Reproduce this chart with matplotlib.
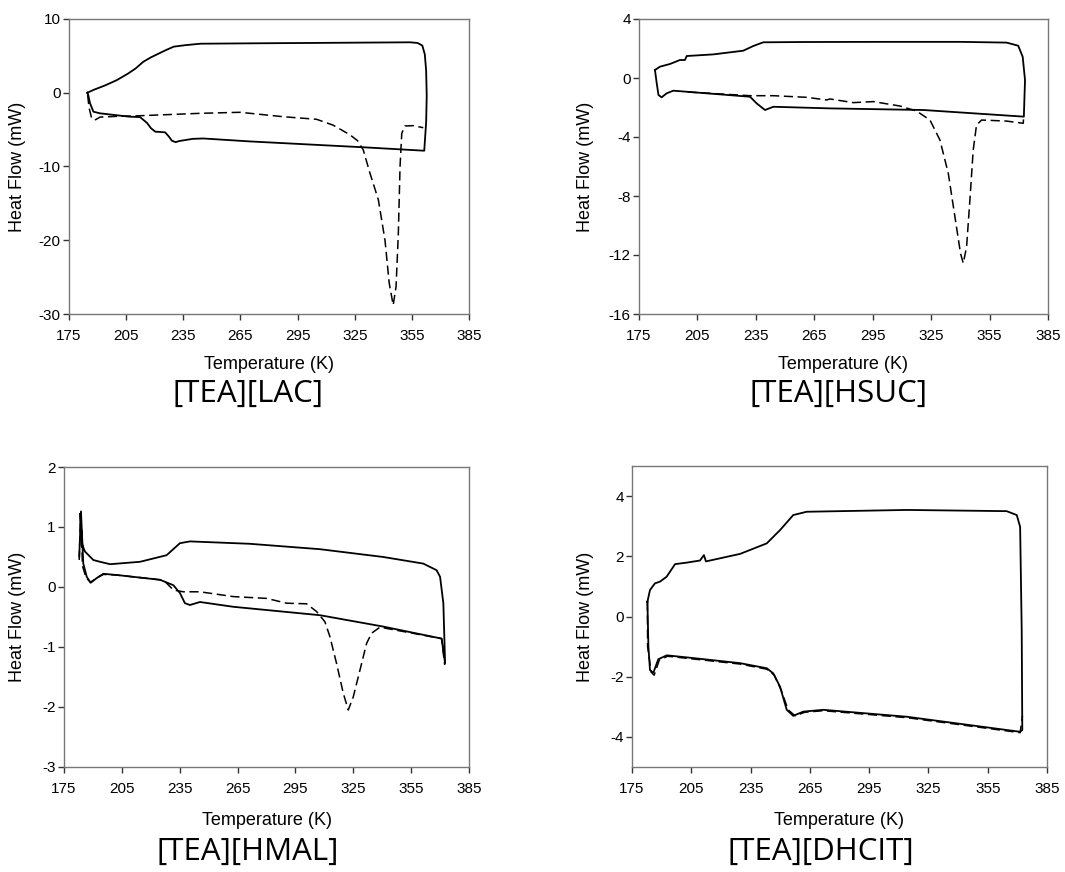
import numpy as np
import matplotlib
matplotlib.use('Agg')
import matplotlib.pyplot as plt

plt.rcParams['font.family'] = ['Liberation Sans', 'DejaVu Sans']
plt.rcParams['axes.unicode_minus'] = False

# ---- [TEA][LAC] ----
lac_solid_T = [184.6, 188, 194, 200, 206, 210, 214, 218, 222, 226, 230, 236, 244, 270, 300, 330, 354,
               358, 360.5, 361.8, 362.5, 362.8, 362.5, 361.5,
               330, 300, 270, 245.5, 240, 232.8, 231, 229, 227.5, 225.5, 222, 220.3, 218, 216,
               212.3, 207, 200, 191.3, 187.8, 186, 185.1, 184.6]
lac_solid_hf = [0.0, 0.4, 1.0, 1.7, 2.6, 3.3, 4.2, 4.8, 5.3, 5.8, 6.25, 6.45, 6.65, 6.7, 6.75, 6.8, 6.84,
                6.75, 6.4, 5.2, 3.0, -0.4, -4.0, -7.86,
                -7.4, -7.0, -6.6, -6.2, -6.25, -6.55, -6.7, -6.5, -5.96, -5.37, -5.3, -5.28, -4.8, -4.1,
                -3.3, -3.25, -3.05, -2.79, -2.57, -1.4, -0.3, 0.0]
lac_dash_T = [184.8, 185.5, 186.9, 188.6, 191.3, 200, 208.8, 243.8, 264.8, 287.5, 305, 313.7, 322.5,
              326.5, 329.5, 333, 337.4, 340.9, 343.1, 345.2, 346.7, 347.9, 348.8, 349.7, 351.4, 355.8, 361]
lac_dash_hf = [-0.3, -2.0, -3.47, -3.7, -3.3, -3.2, -3.15, -2.79, -2.65, -3.25, -3.6, -4.4, -5.7,
               -6.5, -7.76, -10.9, -14.5, -20, -25.8, -28.8, -26.3, -19.1, -10, -5.5, -4.5, -4.46, -4.74]

# ---- [TEA][HSUC] ----
hsuc_solid_T = [183.2, 185.8, 190.9, 196, 198.6, 199.5, 213.1, 228.5, 233.7, 238.8, 260, 300, 340,
                363.7, 369.7, 372, 373.2, 372.6,
                321, 273, 244, 239.7, 235.4, 232, 192.6, 189.2, 186.6, 185, 184.1, 183.2]
hsuc_solid_hf = [0.54, 0.77, 0.95, 1.22, 1.22, 1.49, 1.6, 1.85, 2.17, 2.42, 2.44, 2.45, 2.45,
                 2.4, 2.19, 1.44, -0.14, -2.62,
                 -2.17, -2.06, -1.95, -2.17, -1.72, -1.27, -0.86, -1.04, -1.31, -1.15, -0.36, 0.54]
hsuc_dash_T = [200, 232, 244, 261.1, 271.4, 273, 285, 295.3, 309, 317.5, 324.4, 329.5, 333.8, 337.2,
               340.1, 341.5, 343.2, 344.9, 346.6, 348.3, 350.9, 363.7, 372.3, 372.5]
hsuc_dash_hf = [-0.95, -1.2, -1.2, -1.31, -1.49, -1.42, -1.67, -1.6, -1.9, -2.24, -2.85, -4.2, -6.46,
                -9.4, -11.9, -12.56, -11.44, -8.27, -4.88, -3.19, -2.85, -2.92, -3.07, -2.62]

# ---- [TEA][HMAL] ----
hmal_solid_T = [183.3, 184.5, 185.9, 190.2, 193.7, 198.9, 214.4, 228.2, 235.1, 240.3, 271.4, 307.7,
                340.6, 361.3, 368.2, 370, 371.7, 372.6, 370.8,
                340.6, 307.7, 262.8, 245.5, 240.3, 237.7, 235.1, 231.7, 224.8, 202.3, 195.4, 192,
                188.8, 186.8, 185, 183.8, 182.9]
hmal_solid_hf = [1.22, 0.7, 0.59, 0.45, 0.42, 0.38, 0.42, 0.53, 0.73, 0.76, 0.72, 0.63,
                 0.5, 0.39, 0.28, 0.17, -0.27, -1.27, -0.86,
                 -0.66, -0.47, -0.33, -0.25, -0.3, -0.27, -0.1, 0.03, 0.12, 0.2, 0.22, 0.15,
                 0.07, 0.17, 0.39, 1.26, 0.51]
hmal_dash_T = [182.9, 183.6, 184.6, 186.5, 188.8, 192, 195.4, 202.3, 224.8, 227.4, 231.7, 236.9,
               245.5, 262.8, 280.1, 290.4, 300.8, 306, 310.3, 312.9, 316.3, 319.8, 322.4, 325,
               328.5, 331.9, 334.5, 338.8, 370.8, 372.4]
hmal_dash_hf = [0.45, 1.2, 0.35, 0.15, 0.08, 0.15, 0.21, 0.2, 0.12, 0.09, -0.05, -0.08,
                -0.08, -0.16, -0.19, -0.27, -0.28, -0.41, -0.58, -0.83, -1.27, -1.77, -2.05, -1.83,
                -1.38, -0.94, -0.77, -0.67, -0.86, -1.3]

# ---- [TEA][DHCIT] ----
dhcit_solid_T = [182.8, 184.1, 186.6, 189.2, 192.5, 196.8, 202.7, 209.4, 211.4, 212.4, 229.7, 243.2,
                 249.9, 256.6, 263.4, 314, 364.6, 369.7, 371.4, 372.2, 372.5,
                 371.4, 314, 271.8, 261.7, 256.6, 253.3, 249.9, 246.5, 243.2, 229.7, 204.4, 192.6,
                 188.3, 185.8, 184.1, 183.3, 182.8]
dhcit_solid_hf = [0.49, 0.88, 1.1, 1.16, 1.32, 1.74, 1.79, 1.86, 2.04, 1.83, 2.08, 2.43,
                  2.87, 3.37, 3.48, 3.54, 3.5, 3.37, 2.98, -0.45, -3.77,
                  -3.83, -3.33, -3.1, -3.16, -3.3, -3.1, -2.33, -1.89, -1.72, -1.55, -1.37, -1.29,
                  -1.42, -1.87, -1.78, -1.0, 0.49]
dhcit_dash_T = [182.8, 182.9, 184.7, 186.2, 188.8, 193, 204.4, 229.7, 243.2, 247, 250.5, 254, 257.5,
                262.5, 271.8, 314, 371.4, 372.6]
dhcit_dash_hf = [0.49, -1.0, -1.85, -1.95, -1.45, -1.32, -1.4, -1.58, -1.75, -1.95, -2.45, -3.1, -3.3,
                 -3.18, -3.13, -3.36, -3.86, -3.3]

xticks = np.arange(175, 386, 30)

W, H = 1065, 872
fig = plt.figure(figsize=(W / 100, H / 100), dpi=100)


def px_axes(x0, y0, x1, y1):
    return fig.add_axes([x0 / W, 1 - y1 / H, (x1 - x0) / W, (y1 - y0) / H])


def ftext(x, y, s, **kw):
    fig.text(x / W, 1 - y / H, s, ha='center', va='center', **kw)


panels = [
    # (box, solid, dash, ylim, yticks, ylabel x, xlabel y, title xy, title)
    ((69, 19, 469, 314), (lac_solid_T, lac_solid_hf), (lac_dash_T, lac_dash_hf),
     (-30, 10), np.arange(-30, 11, 10), 18, 364, (248, 394), '[TEA][LAC]'),
    ((639, 19, 1048, 314), (hsuc_solid_T, hsuc_solid_hf), (hsuc_dash_T, hsuc_dash_hf),
     (-16, 4), np.arange(-16, 5, 4), 585, 364, (838, 394), '[TEA][HSUC]'),
    ((64, 467, 469, 767), (hmal_solid_T, hmal_solid_hf), (hmal_dash_T, hmal_dash_hf),
     (-3, 2), np.arange(-3, 3, 1), 18, 820, (248, 852), '[TEA][HMAL]'),
    ((632, 466, 1047, 767), (dhcit_solid_T, dhcit_solid_hf), (dhcit_dash_T, dhcit_dash_hf),
     (-5, 5), np.arange(-4, 5, 2), 585, 820, (821, 852), '[TEA][DHCIT]'),
]

for box, solid, dash, ylim, yt, ylx, xly, txy, title in panels:
    ax = px_axes(*box)
    ax.plot(dash[0], dash[1], color='black', lw=1.1, ls=(0, (6, 3)))
    ax.plot(solid[0], solid[1], color='black', lw=1.3)
    ax.set_xlim(175, 385)
    ax.set_ylim(*ylim)
    ax.set_xticks(xticks)
    ax.set_yticks(yt)
    ax.tick_params(direction='out', length=4, width=1, colors='#333333', labelsize=11,
                   labelcolor='black')
    ax.tick_params(axis='x', pad=7)
    ax.tick_params(axis='y', pad=2)
    for sp in ax.spines.values():
        sp.set_color('#777777')
        sp.set_linewidth(1.0)
    cy = (box[1] + box[3]) / 2
    ftext(ylx, cy, 'Heat Flow (mW)', rotation=90, fontsize=13)
    ftext((box[0] + box[2]) / 2, xly, 'Temperature (K)', fontsize=13)
    ftext(txy[0], txy[1], title, fontsize=22.5, family=['Open Sans', 'DejaVu Sans'])

fig.savefig('out.png', dpi=100)
